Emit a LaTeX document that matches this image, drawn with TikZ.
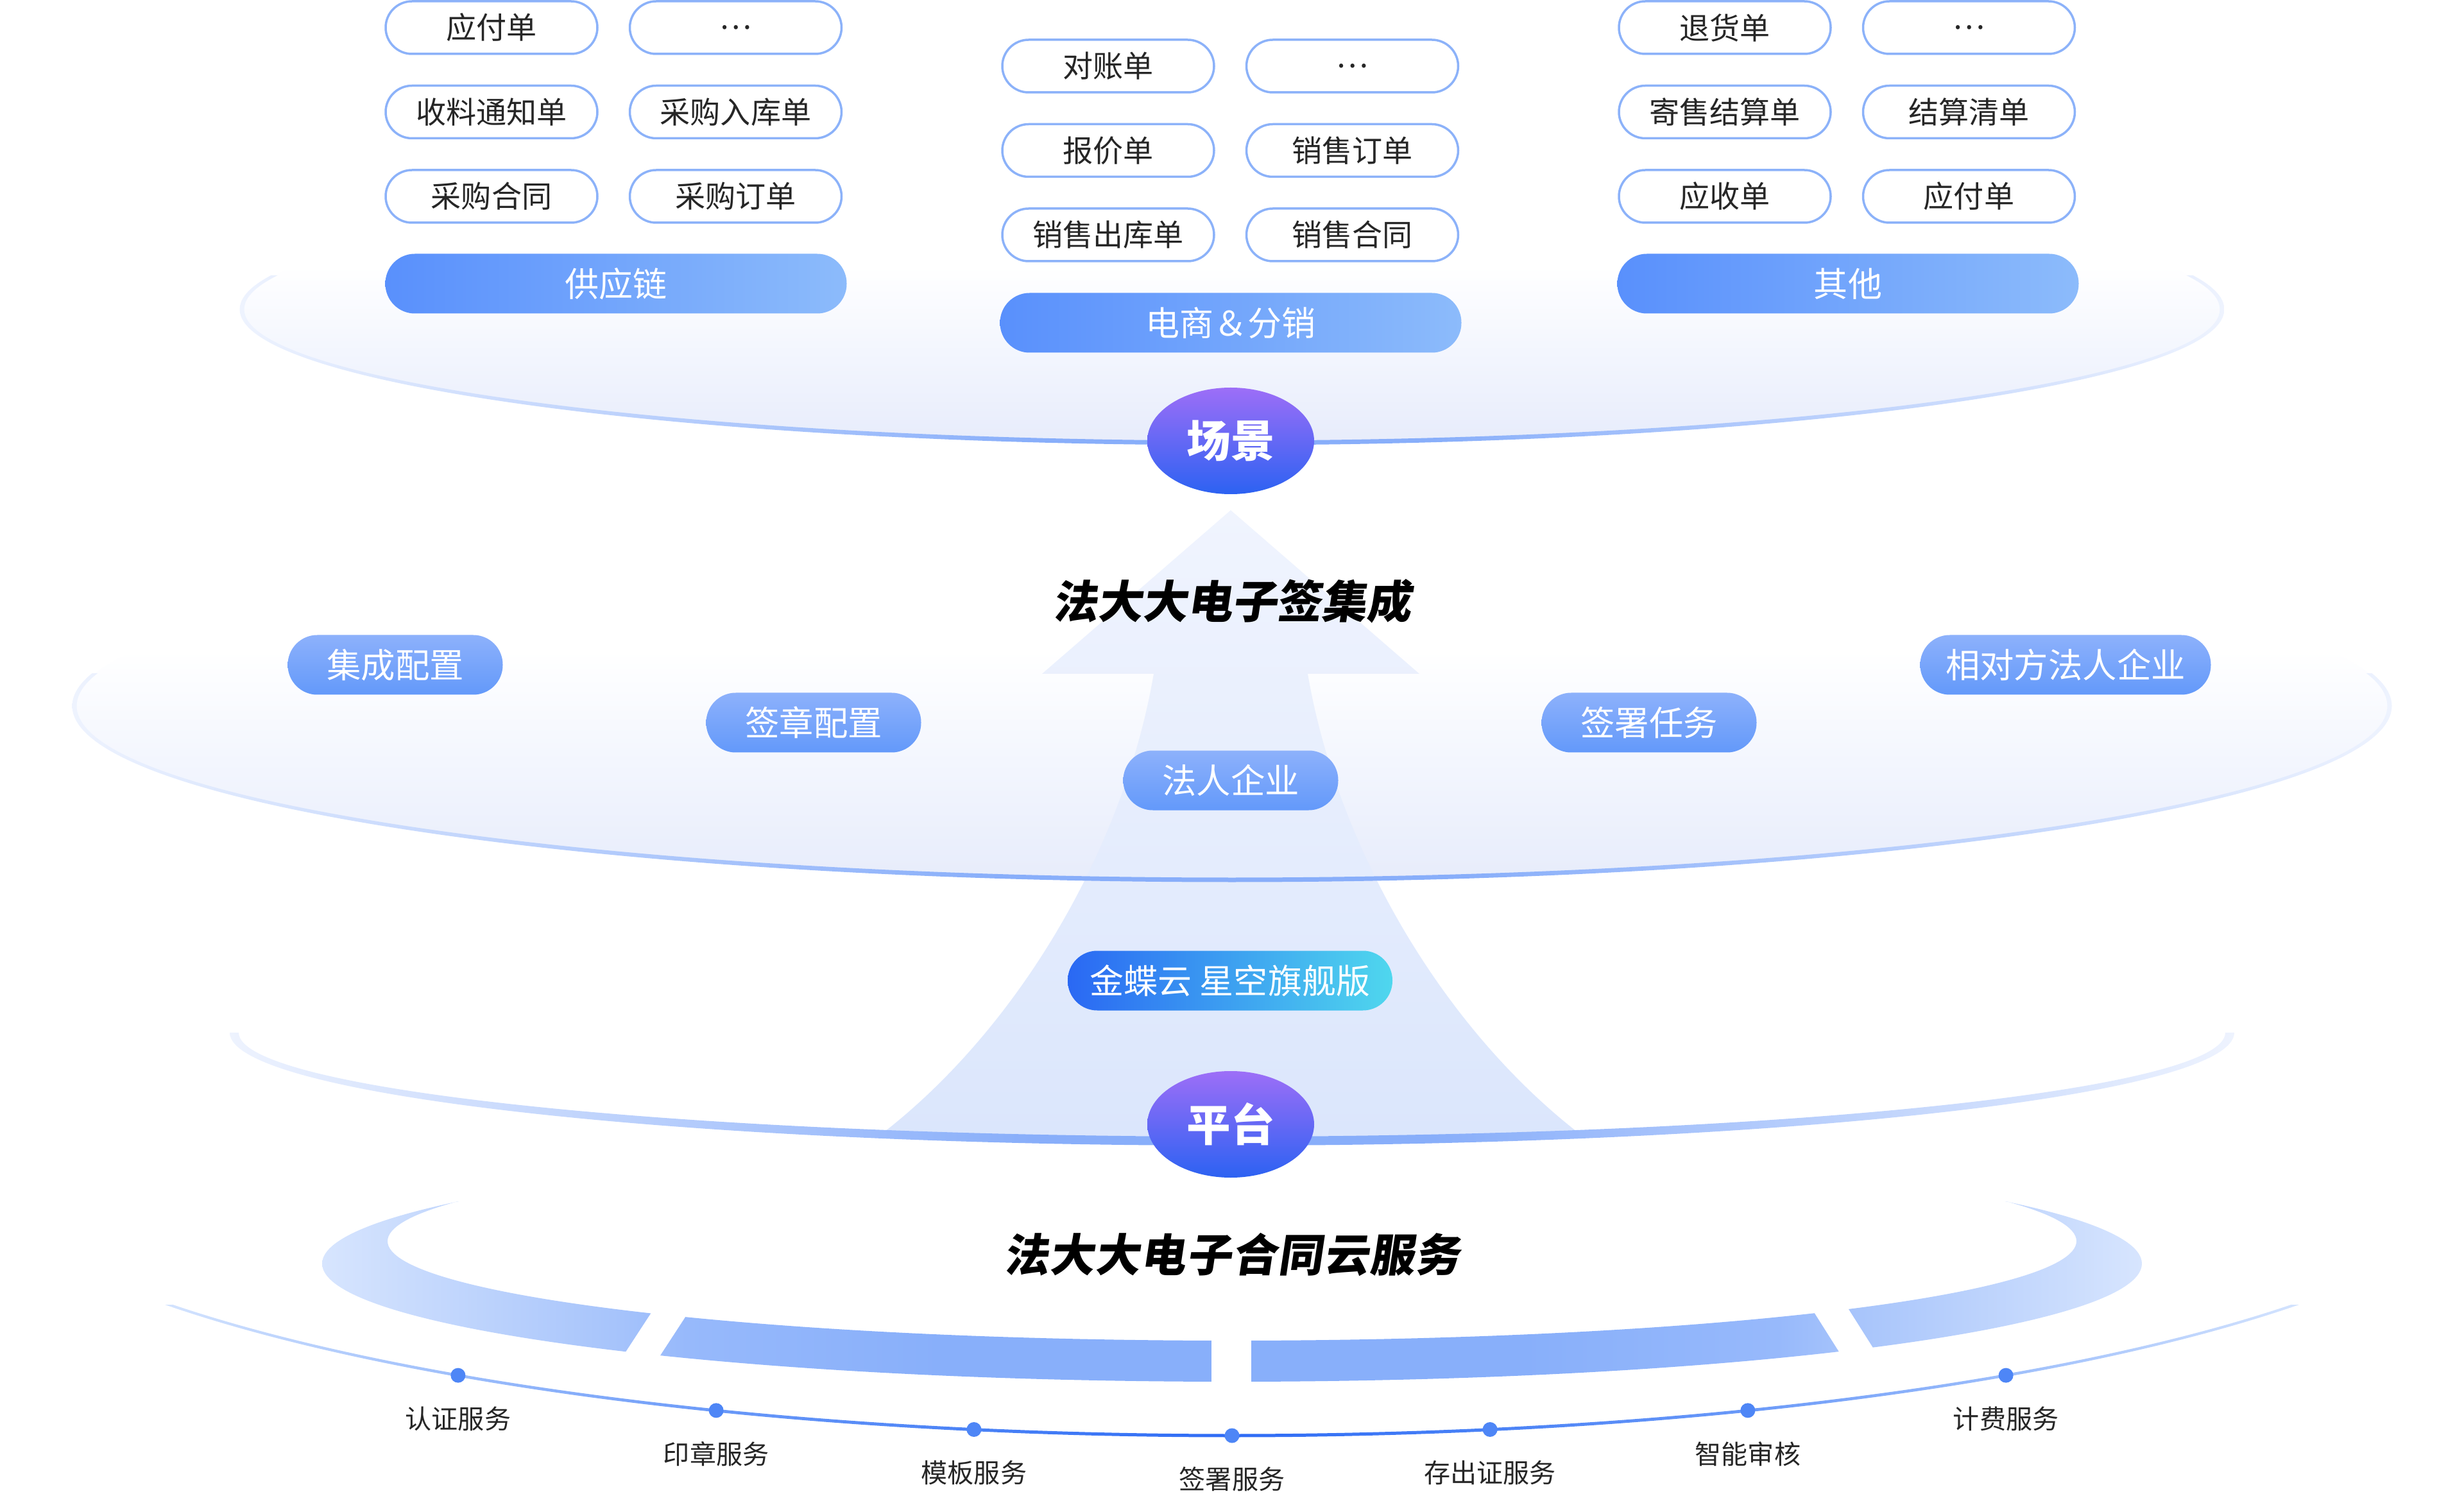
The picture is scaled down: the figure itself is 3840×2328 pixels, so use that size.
\documentclass[tikz,border=0pt]{standalone}
\usepackage{fontspec}
\setmainfont{Noto Sans CJK SC}
\newfontfamily\headfont[FakeSlant=0.15]{Noto Sans CJK SC}
\usetikzlibrary{positioning, shapes.geometric, calc}

\definecolor{pillLine}{HTML}{8CB2F9}
\definecolor{inkDark}{HTML}{262626}
\definecolor{barL}{HTML}{5990FC}
\definecolor{barR}{HTML}{8CBBFB}
\definecolor{tagT}{HTML}{8DB1FB}
\definecolor{tagB}{HTML}{6399FA}
\definecolor{kdL}{HTML}{2A68F3}
\definecolor{kdR}{HTML}{4FD7EE}
\definecolor{hubT}{HTML}{9D6EF7}
\definecolor{hubB}{HTML}{2C62F2}
\definecolor{dotBlue}{HTML}{4E86F6}
\definecolor{plateLow}{HTML}{E7ECFB}
\definecolor{plateMid}{HTML}{F3F6FE}
\definecolor{rimEnd}{HTML}{EEF3FE}
\definecolor{rimMid}{HTML}{88AEFA}
\definecolor{bandEnd}{HTML}{D7E5FE}
\definecolor{bandA}{HTML}{A7C4FB}
\definecolor{bandB}{HTML}{97B9FB}
\definecolor{bandMid}{HTML}{88AFFA}
\definecolor{svcEnd}{HTML}{D6E5FE}
\definecolor{svcA}{HTML}{9DBEFB}
\definecolor{svcB}{HTML}{6A99F8}
\definecolor{svcC}{HTML}{4A82F6}
\definecolor{svcMid}{HTML}{2E6BF5}
\definecolor{arrowTop}{HTML}{F0F4FE}
\definecolor{arrowBot}{HTML}{DBE6FC}

% fades used by the plates, the ring and the service arc
\pgfdeclareverticalshading{platefade}{100bp}{color(0bp)=(plateLow); color(25bp)=(plateLow);
  color(42bp)=(plateMid); color(58bp)=(white); color(100bp)=(white)}
\pgfdeclarehorizontalshading{rimfade}{100bp}{color(0bp)=(rimEnd); color(25bp)=(rimEnd);
  color(45bp)=(rimMid); color(55bp)=(rimMid); color(75bp)=(rimEnd); color(100bp)=(rimEnd)}
\pgfdeclarehorizontalshading{bandfade}{100bp}{color(0bp)=(bandEnd); color(25bp)=(bandEnd);
  color(33bp)=(bandA); color(35bp)=(bandB); color(42bp)=(bandMid); color(58bp)=(bandMid);
  color(65bp)=(bandB); color(67bp)=(bandA); color(75bp)=(bandEnd); color(100bp)=(bandEnd)}
\pgfdeclarehorizontalshading{svcfade}{100bp}{color(0bp)=(svcEnd); color(29bp)=(svcEnd);
  color(35bp)=(svcA); color(40bp)=(svcB); color(45bp)=(svcC); color(50bp)=(svcMid);
  color(55bp)=(svcC); color(60bp)=(svcB); color(65bp)=(svcA); color(71bp)=(svcEnd);
  color(100bp)=(svcEnd)}

\begin{document}
\begin{tikzpicture}[
  x=0.1mm, y=-0.1mm,
  doc/.style={draw=pillLine, line width=0.35mm, fill=white, rounded corners=4.1mm,
              minimum width=33mm, minimum height=8.2mm, inner sep=0pt,
              text=inkDark, font=\fontsize{13.4}{16}\selectfont},
  bar/.style={rounded corners=4.6mm, minimum width=71.9mm, minimum height=9.3mm,
              inner sep=0pt, left color=barL, right color=barR, text=white,
              font=\fontsize{15.1}{18}\selectfont},
  tag/.style={rounded corners=4.6mm, minimum width=33.5mm, minimum height=9.3mm,
              inner sep=0pt, top color=tagT, bottom color=tagB, text=white,
              font=\fontsize{15.2}{18}\selectfont},
  kd/.style={rounded corners=4.6mm, minimum width=50.6mm, minimum height=9.3mm,
             inner sep=0pt, left color=kdL, right color=kdR, text=white,
             font=\fontsize{15.1}{18}\selectfont},
  hub/.style={ellipse, minimum width=26mm, minimum height=16.6mm, inner sep=0pt,
              top color=hubT, bottom color=hubB, text=white,
              font=\fontsize{19.5}{23}\selectfont\bfseries},
  head/.style={text=black, inner sep=0pt,
               font=\headfont\bfseries\fontsize{19.9}{24}\selectfont},
  dot/.style={circle, fill=dotBlue, minimum size=2.3mm, inner sep=0pt},
  svc/.style={text=inkDark, inner sep=0pt, font=\fontsize{11.7}{14}\selectfont}
]
\useasboundingbox (0,0) rectangle (3840,2328);

% upper plate
\shade[shading=platefade] (1920,482) ellipse [x radius=1543, y radius=208];
\begin{scope}
  \clip (0,430) rectangle (3840,760);
  \shade[shading=rimfade, even odd rule]
    (1920,482) ellipse [x radius=1546.5, y radius=211.5]
    (1920,482) ellipse [x radius=1539.5, y radius=204.5];
\end{scope}

% middle plate and the arrow
\shade[shading=platefade] (1920,1100) ellipse [x radius=1804, y radius=271];
\path[top color=arrowTop, bottom color=arrowBot]
  (1918,795) -- (2212,1050) -- (2038,1050)
  .. controls (2086,1330) and (2256,1610) .. (2466,1770) -- (1370,1770)
  .. controls (1580,1610) and (1750,1330) .. (1798,1050) -- (1624,1050) -- cycle;
\begin{scope}
  \clip (0,1050) rectangle (3840,1400);
  \shade[shading=rimfade, even odd rule]
    (1920,1100) ellipse [x radius=1807.5, y radius=274.5]
    (1920,1100) ellipse [x radius=1800.5, y radius=267.5];
\end{scope}

% platform rim
\begin{scope}
  \clip (0,1609) rectangle (3840,1800);
  \shade[shading=rimfade, even odd rule]
    (1920,1609) ellipse [x radius=1562, y radius=176]
    (1920,1609) ellipse [x radius=1548, y radius=162];
\end{scope}

% cloud service ring, cut in four
\begin{scope}
  \clip (0,1872) rectangle (3840,2328);
  \shade[shading=bandfade, even odd rule]
    (1920,1969) ellipse [x radius=1418, y radius=184]
    (1920,1934) ellipse [x radius=1316, y radius=155];
\end{scope}
\draw[white, line width=4.8mm] (982,2140) -- (1061,2019);
\draw[white, line width=6.2mm] (1919,2060) -- (1919,2180);
\draw[white, line width=4.8mm] (2836,2014) -- (2910,2131);

% service arc
\begin{scope}
  \clip (0,2033) rectangle (3840,2328);
  \shade[shading=svcfade, even odd rule]
    (1920,1773) ellipse [x radius=2002.5, y radius=466.5]
    (1920,1773) ellipse [x radius=1997.5, y radius=461.5];
\end{scope}

% scenes
\node[doc] (a1) at (766,43) {应付单};
\node[doc, right=4.7mm of a1] (a2) {…};
\node[doc, below=4.6mm of a1] (a3) {收料通知单};
\node[doc, right=4.7mm of a3] (a4) {采购入库单};
\node[doc, below=4.6mm of a3] (a5) {采购合同};
\node[doc, right=4.7mm of a5] (a6) {采购订单};
\node[bar] (supply) at (960,442) {供应链};

\node[doc] (b1) at (1727,103) {对账单};
\node[doc, right=4.7mm of b1] (b2) {…};
\node[doc, below=4.6mm of b1] (b3) {报价单};
\node[doc, right=4.7mm of b3] (b4) {销售订单};
\node[doc, below=4.6mm of b3] (b5) {销售出库单};
\node[doc, right=4.7mm of b5] (b6) {销售合同};
\node[bar] (retail) at (1918,503) {电商＆分销};

\node[doc] (c1) at (2688,43) {退货单};
\node[doc, right=4.7mm of c1] (c2) {…};
\node[doc, below=4.6mm of c1] (c3) {寄售结算单};
\node[doc, right=4.7mm of c3] (c4) {结算清单};
\node[doc, below=4.6mm of c3] (c5) {应收单};
\node[doc, right=4.7mm of c5] (c6) {应付单};
\node[bar] (other) at (2880,442) {其他};

\node[hub] (scene) at (1918,687) {场景};

% integration
\node[head] (integ) at (1920,937) {法大大电子签集成};
\node[tag] (cfgInt) at (616,1036) {集成配置};
\node[tag] (cfgSeal) at (1268,1126) {签章配置};
\node[tag] (task) at (2570,1126) {签署任务};
\node[tag, minimum width=45.3mm] (party) at (3219,1036) {相对方法人企业};
\node[tag] (corp) at (1918,1216) {法人企业};

\node[kd] (kingdee) at (1917,1528) {金蝶云 星空旗舰版};
\node[hub] (plat) at (1918,1752) {平台};

% cloud services
\node[head, font=\headfont\bfseries\fontsize{19.9}{24}\selectfont\addfontfeature{LetterSpace=2}]
  (cloud) at (1920,1955) {法大大电子合同云服务};
\foreach \ang/\txt [count=\i] in {127.09/认证服务, 113.70/印章服务, 101.60/模板服务,
    90/签署服务, 78.40/存出证服务, 66.30/智能审核, 52.91/计费服务}
{
  \path (1920,1773) ++(\ang:2000 and 464) node[dot] (d\i) {};
  \node[svc, below=3.6mm of d\i] (s\i) {\txt};
}
\end{tikzpicture}
\end{document}
